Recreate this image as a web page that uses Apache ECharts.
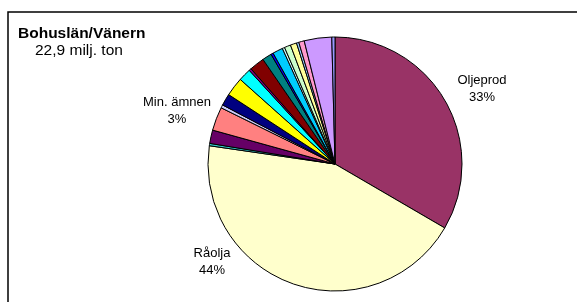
<!DOCTYPE html>
<html>
<head>
<meta charset="utf-8">
<script src="https://cdn.jsdelivr.net/npm/echarts@6/dist/echarts.min.js"></script>
<style>
html,body{margin:0;padding:0;background:#fff;}
#chart{width:577px;height:302px;}
</style>
</head>
<body>
<div id="chart"></div>
<script>
// ---- data ----
const chartTitle = 'Bohuslän/Vänern';
const chartSubtitle = '22,9 milj. ton';
const categories = [
  'Oljeprod', 'Råolja', 'Kategori 3', 'Kategori 4', 'Min. ämnen', 'Kategori 6',
  'Kategori 7', 'Kategori 8', 'Kategori 9', 'Kategori 10', 'Kategori 11', 'Kategori 12',
  'Kategori 13', 'Kategori 14', 'Kategori 15', 'Kategori 16', 'Kategori 17', 'Kategori 18',
  'Kategori 19', 'Kategori 20', 'Kategori 21'
];
const shares = [
  33.4, 43.9, 0.3, 1.7, 3.0, 0.4,
  1.5, 2.4, 1.6, 0.3, 1.9, 1.2,
  0.3, 1.3, 0.3, 0.8, 0.8, 0.3,
  0.7, 3.5, 0.4
];
const labeledCategories = ['Oljeprod', 'Råolja', 'Min. ämnen'];

// ---- styles ----
const sliceColors = [
  '#993366', '#FFFFCC', '#33CCCC', '#660066', '#FF8080', '#CCCCFF',
  '#000080', '#FFFF00', '#00FFFF', '#800080', '#800000', '#008080',
  '#0000FF', '#00CCFF', '#CCFFFF', '#CCFFCC', '#FFFF99', '#99CCFF',
  '#FF99CC', '#CC99FF', '#9999FF'
];
// label placement: offset from pie centre (px)
const labelOffsets = {
  'Oljeprod': [147, -75],
  'Råolja': [-123, 98],
  'Min. ämnen': [-158, -53]
};
const pieCenter = [335, 164];
const pieRadius = 127;
const FONT = '"Liberation Sans", Arial, sans-serif';

const chart = echarts.init(document.getElementById('chart'), null, {renderer: 'canvas'});

const data = categories.map((c, i) => ({
  name: c,
  value: shares[i],
  itemStyle: {color: sliceColors[i]},
  label: {show: labeledCategories.indexOf(c) >= 0}
}));

chart.setOption({
  animation: false,
  backgroundColor: '#fff',
  title: [
    {text: chartTitle, left: 18, top: 26, padding: 0,
     textStyle: {fontFamily: FONT, fontSize: 15.5, fontWeight: 'bold', color: '#000'}},
    {text: chartSubtitle, left: 35, top: 43, padding: 0,
     textStyle: {fontFamily: FONT, fontSize: 15.5, fontWeight: 'normal', color: '#000'}}
  ],
  graphic: [{
    type: 'rect', silent: true,
    shape: {x: 8, y: 12, width: 640, height: 340},
    style: {fill: 'none', stroke: '#000', lineWidth: 1.5}
  }],
  series: [{
    type: 'pie',
    center: pieCenter,
    radius: pieRadius,
    startAngle: 90,
    clockwise: true,
    avoidLabelOverlap: false,
    itemStyle: {borderColor: '#000', borderWidth: 1},
    emphasis: {disabled: true},
    label: {
      position: 'outside',
      fontFamily: FONT, fontSize: 13, color: '#000', lineHeight: 17,
      formatter: p => p.name + '\n' + Math.round(p.percent) + '%'
    },
    labelLine: {show: false},
    labelLayout: function (params) {
      const name = categories[params.dataIndex];
      const off = labelOffsets[name];
      if (!off) return {};
      return {
        x: pieCenter[0] + off[0],
        y: pieCenter[1] + off[1],
        align: 'center',
        verticalAlign: 'middle'
      };
    },
    data: data
  }]
});
</script>
</body>
</html>
